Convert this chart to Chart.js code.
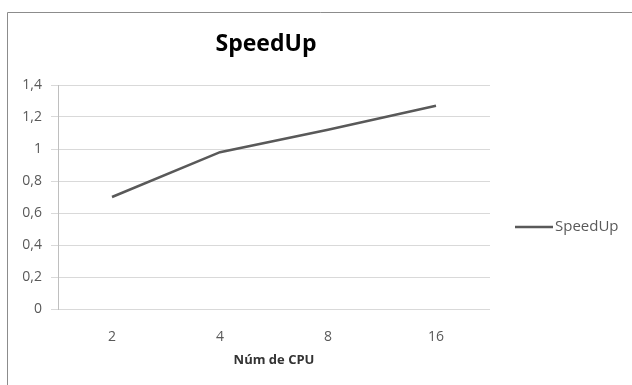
<!DOCTYPE html>
<html>
<head>
<meta charset="utf-8">
<script src="https://cdn.jsdelivr.net/npm/chart.js@4"></script>
<style>
  html, body { margin: 0; padding: 0; background: #fff; }
  #wrap { position: relative; width: 632px; height: 385px; }
</style>
</head>
<body>
<div id="wrap"><canvas id="c" width="632" height="385"></canvas></div>
<script>
// CPU counts on the horizontal axis
const cpuCounts = ['2', '4', '8', '16'];
// Measured speedup for each CPU count
const speedUp = [0.70, 0.98, 1.12, 1.27];
// Vertical axis labels, decimal comma
const yTickLabels = ['0', '0,2', '0,4', '0,6', '0,8', '1', '1,2', '1,4'];

const FONT = '"Open Sans", "DejaVu Sans", sans-serif';
const LINE_COLOR = '#595959';

// Frame around the chart, open on the right and bottom
const framePlugin = {
  id: 'frame',
  beforeDraw(chart) {
    const ctx = chart.ctx;
    ctx.save();
    ctx.fillStyle = '#fff';
    ctx.fillRect(0, 0, chart.width, chart.height);
    ctx.strokeStyle = '#8c8c8c';
    ctx.lineWidth = 1;
    ctx.beginPath();
    ctx.moveTo(7.5, chart.height + 5);
    ctx.lineTo(7.5, 12.5);
    ctx.lineTo(chart.width + 5, 12.5);
    ctx.stroke();
    ctx.restore();
  }
};

// Centre the title over the left part of the frame
const titleShift = {
  id: 'titleShift',
  afterLayout(chart) {
    const tb = chart.titleBlock;
    if (tb) { tb.left -= 8; tb.right -= 8; }
  }
};

// Series key drawn to the right of the plot
const sideLegend = {
  id: 'sideLegend',
  afterDraw(chart) {
    const ctx = chart.ctx;
    const ds = chart.data.datasets[0];
    const y = 227;
    ctx.save();
    ctx.strokeStyle = ds.borderColor;
    ctx.lineWidth = ds.borderWidth;
    ctx.beginPath();
    ctx.moveTo(515, y);
    ctx.lineTo(553, y);
    ctx.stroke();
    ctx.fillStyle = '#595959';
    ctx.font = '15px ' + FONT;
    ctx.textBaseline = 'middle';
    ctx.textAlign = 'left';
    ctx.fillText(ds.label, 555, y);
    ctx.restore();
  }
};

new Chart(document.getElementById('c'), {
  type: 'line',
  data: {
    labels: cpuCounts,
    datasets: [{
      label: 'SpeedUp',
      data: speedUp,
      borderColor: LINE_COLOR,
      borderWidth: 2.5,
      pointRadius: 0,
      tension: 0,
      fill: false
    }]
  },
  options: {
    responsive: false,
    animation: false,
    devicePixelRatio: 1,
    layout: { padding: { left: 0, right: 142, top: 0, bottom: 0 } },
    plugins: {
      legend: { display: false },
      tooltip: { enabled: false },
      title: {
        display: true,
        text: 'SpeedUp',
        fullSize: false,
        color: '#000',
        font: { family: FONT, size: 23, weight: 'bold' },
        padding: { top: 31, bottom: 26.4 }
      }
    },
    scales: {
      x: {
        offset: true,
        grid: { display: false },
        border: { display: false },
        ticks: { color: '#595959', font: { family: FONT, size: 14 }, padding: 12 },
        title: {
          display: true,
          text: 'Núm de CPU',
          color: '#333',
          font: { family: FONT, size: 13, weight: 'bold' },
          padding: { top: 17, bottom: 17 }
        },
        afterFit(scale) { scale.height = 76; }
      },
      y: {
        min: 0,
        max: 1.4,
        ticks: {
          stepSize: 0.2,
          color: '#595959',
          font: { family: FONT, size: 14 },
          padding: 9,
          callback: (v, i) => yTickLabels[i]
        },
        grid: { color: '#d9d9d9', lineWidth: 1, tickLength: 7, drawTicks: true },
        border: { display: true, color: '#bfbfbf', width: 1 },
        afterFit(scale) { scale.width = 58; }
      }
    }
  },
  plugins: [framePlugin, titleShift, sideLegend]
});
</script>
</body>
</html>
